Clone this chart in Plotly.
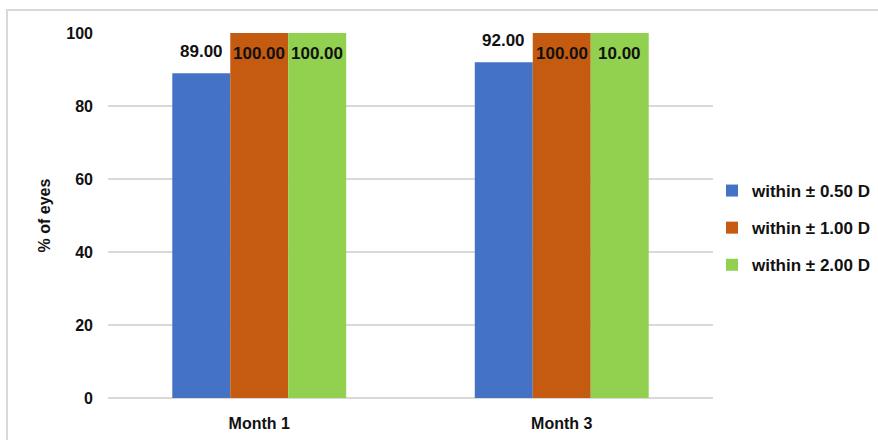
import plotly.graph_objects as go

# Refraction outcome data
months = ["Month 1", "Month 3"]
series_names = ["within \u00b1 0.50 D", "within \u00b1 1.00 D", "within \u00b1 2.00 D"]
within_050 = [89.0, 92.0]
within_100 = [100.0, 100.0]
within_200 = [100.0, 100.0]
# data labels as printed on the chart
labels_050 = ["89.00", "92.00"]
labels_100 = ["100.00", "100.00"]
labels_200 = ["100.00", "10.00"]
y_ticks = [0, 20, 40, 60, 80, 100]

colors = ["#4472C4", "#C55A11", "#92D050"]
FONT = "Arial, Liberation Sans, sans-serif"
INK = "#111111"

series = [within_050, within_100, within_200]
series_labels = [labels_050, labels_100, labels_200]

x_pos = list(range(len(months)))
bargap = 0.425
bar_w = (1 - bargap) / len(series)

fig = go.Figure()
annotations = []
for j, (name, vals, labs, col) in enumerate(zip(series_names, series, series_labels, colors)):
    fig.add_trace(go.Bar(
        x=x_pos, y=vals, name=f"<b>{name}</b>",
        marker=dict(color=col, line=dict(width=0)),
        legendgroup=name, hoverinfo="skip",
    ))
    for i, (v, t) in enumerate(zip(vals, labs)):
        xc = x_pos[i] + (j - (len(series) - 1) / 2) * bar_w
        inside = v >= 99.5
        annotations.append(dict(
            x=xc, y=v, xref="x", yref="y", text=f"<b>{t}</b>", showarrow=False,
            yshift=-20 if inside else 22,
            font=dict(family=FONT, size=17, color=INK),
            xanchor="center", yanchor="middle",
        ))

W, H = 878, 440
ml, mr, mt, mb = 108, 165, 33, 42
pw, ph = W - ml - mr, H - mt - mb

fig.update_layout(
    width=W, height=H,
    margin=dict(l=ml, r=mr, t=mt, b=mb, autoexpand=False),
    paper_bgcolor="white", plot_bgcolor="white",
    barmode="group", bargap=bargap, bargroupgap=0,
    font=dict(family=FONT, size=16, color=INK),
    xaxis=dict(
        range=[-0.5, len(months) - 0.5], tickmode="array", tickvals=x_pos,
        ticktext=[f"<b>{m}</b>" for m in months],
        showgrid=False, zeroline=False, showline=False, ticks="",
        ticklabelstandoff=14,
        tickfont=dict(family=FONT, size=16, color=INK),
    ),
    yaxis=dict(
        range=[0, 100], tickmode="array", tickvals=y_ticks,
        ticktext=[f"<b>{t}</b>" for t in y_ticks],
        showgrid=True, gridcolor="#d9d9d9", gridwidth=1.5,
        zeroline=True, zerolinecolor="#d9d9d9", zerolinewidth=1.5,
        showline=False, ticks="", ticklabelstandoff=14,
        tickfont=dict(family=FONT, size=16, color=INK),
        title=dict(text="<b>% of eyes</b>", standoff=11,
                   font=dict(family=FONT, size=16, color=INK)),
    ),
    legend=dict(
        x=(712 - ml) / pw, y=(398 - 228) / ph, xanchor="left", yanchor="middle",
        font=dict(family=FONT, size=17, color=INK),
        traceorder="grouped", tracegroupgap=12, itemwidth=30,
        bgcolor="rgba(0,0,0,0)",
    ),
    annotations=annotations,
    shapes=[dict(
        type="rect", xref="paper", yref="paper",
        x0=(7 - ml) / pw, x1=1.5, y0=-0.5, y1=(398 - 10) / ph,
        line=dict(color="#d9d9d9", width=2), fillcolor="rgba(0,0,0,0)", layer="below",
    )],
)

fig.write_html("out.html")
